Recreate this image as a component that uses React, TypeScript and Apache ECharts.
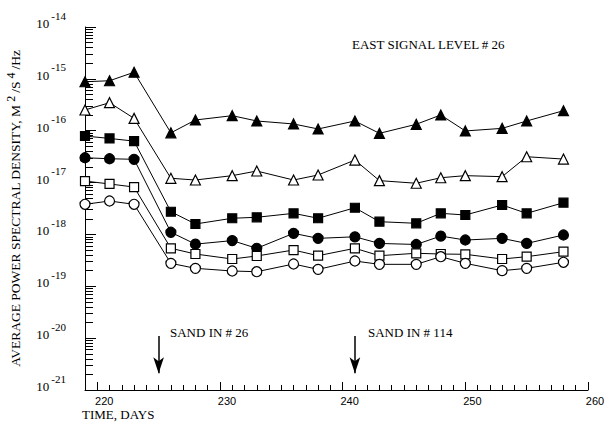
import React, { useEffect, useRef } from "react";
import * as echarts from "echarts";

const days = [219, 221, 223, 226, 228, 231, 233, 236, 238, 241, 243, 246, 248, 250, 253, 255, 258];

const filledTriangle = [8.8e-16, 9.2e-16, 1.34e-15, 9.1e-17, 1.61e-16, 1.95e-16, 1.54e-16, 1.35e-16, 1.08e-16, 1.54e-16, 8.9e-17, 1.33e-16, 2.01e-16, 9.9e-17, 1.11e-16, 1.54e-16, 2.43e-16];
const openTriangle = [2.51e-16, 3.47e-16, 1.73e-16, 1.21e-17, 1.12e-17, 1.36e-17, 1.67e-17, 1.12e-17, 1.4e-17, 2.72e-17, 1.09e-17, 9.7e-18, 1.24e-17, 1.36e-17, 1.3e-17, 3.15e-17, 2.84e-17];
const filledSquare = [7.9e-17, 7.1e-17, 6.3e-17, 2.74e-18, 1.59e-18, 2.05e-18, 2.14e-18, 2.55e-18, 2.05e-18, 3.27e-18, 1.76e-18, 1.64e-18, 2.55e-18, 2.37e-18, 3.69e-18, 2.55e-18, 4.09e-18];
const filledCircle = [3.01e-17, 2.88e-17, 2.81e-17, 1.1e-18, 6.5e-19, 7.6e-19, 5.4e-19, 1.05e-18, 8.4e-19, 9.0e-19, 6.7e-19, 6.4e-19, 9.3e-19, 7.8e-19, 8.4e-19, 6.7e-19, 9.75e-19];
const openSquare = [1.07e-17, 9.4e-18, 8.2e-18, 5.4e-19, 4.19e-19, 3.36e-19, 3.84e-19, 5.0e-19, 3.89e-19, 5.4e-19, 3.89e-19, 4.33e-19, 4.19e-19, 4.14e-19, 3.36e-19, 3.72e-19, 4.65e-19];
const openCircle = [3.81e-18, 4.41e-18, 3.81e-18, 2.77e-19, 2.22e-19, 1.97e-19, 1.91e-19, 2.69e-19, 2.12e-19, 3.07e-19, 2.65e-19, 2.65e-19, 3.72e-19, 2.77e-19, 2.0e-19, 2.22e-19, 2.9e-19];

const xLabels = [220, 230, 240, 250, 260];
const yDecades = [-21, -20, -19, -18, -17, -16, -15, -14];
const sandEvents = [
  { day: 225, label: "SAND IN # 26" },
  { day: 241, label: "SAND IN # 114" },
];
const arrowTop = 1.1e-20;
const arrowBottom = 2.1e-21;

const titleText = "EAST SIGNAL LEVEL # 26";

const SERIF = "'Liberation Serif', 'DejaVu Serif', serif";
const SANS = "'Liberation Sans', Arial, sans-serif";

export default function App() {
  const ref = useRef<HTMLDivElement>(null);
  useEffect(() => {
    if (!ref.current) return;
    const chart = echarts.init(ref.current, undefined, { renderer: "svg" });

    const dayTicks: number[] = [];
    for (let d = 220; d <= 260; d++) dayTicks.push(d);
    const minorY: number[] = [];
    for (let e = -21; e < -14; e++) {
      for (let k = 2; k <= 9; k++) minorY.push(k * Math.pow(10, e));
    }
    const majorY = yDecades.map((e) => Math.pow(10, e));

    const mk = (name: string, data: number[], symbol: string, size: number, filled: boolean) => ({
      name,
      type: "line",
      data: days.map((d, i) => [d, data[i]]),
      symbol,
      symbolSize: size,
      showAllSymbol: true,
      lineStyle: { color: "#000", width: 1 },
      itemStyle: { color: filled ? "#000" : "#fff", borderColor: "#000", borderWidth: 1.2 },
      z: 3,
    });

    const series: any[] = [
      mk("ft", filledTriangle, "triangle", 10, true),
      mk("ot", openTriangle, "triangle", 10, false),
      mk("fs", filledSquare, "rect", 9, true),
      mk("fc", filledCircle, "circle", 10, true),
      mk("os", openSquare, "rect", 9, false),
      mk("oc", openCircle, "circle", 10, false),
      {
        type: "line",
        data: [],
        markLine: {
          silent: true,
          symbol: ["none", "arrow"],
          symbolSize: [8, 16],
          lineStyle: { color: "#000", width: 1.5, type: "solid" },
          label: { show: false },
          data: sandEvents.map((s) => [
            { coord: [s.day, arrowTop] },
            { coord: [s.day, arrowBottom] },
          ]),
        },
      },
    ];

    chart.setOption({
      animation: false,
      backgroundColor: "#fff",
      grid: { left: 85, right: 21, top: 27, bottom: 33, containLabel: false, outerBoundsMode: "none" },
      xAxis: [
        {
          type: "value",
          min: 219,
          max: 260,
          axisLine: { show: true, lineStyle: { color: "#000", width: 1 } },
          axisTick: { show: true, inside: true, length: 5, customValues: dayTicks, lineStyle: { color: "#000" } },
          axisLabel: {
            customValues: xLabels,
            color: "#000",
            fontFamily: SANS,
            fontSize: 11,
            margin: 5,
            padding: [0, 0, 0, 14],
          },
          splitLine: { show: false },
        },
        {
          type: "value",
          min: 219,
          max: 260,
          position: "bottom",
          axisLine: { show: false },
          axisTick: { show: true, inside: true, length: 8, customValues: xLabels, lineStyle: { color: "#000" } },
          axisLabel: { show: false },
          splitLine: { show: false },
        },
      ],
      yAxis: [
        {
          type: "log",
          logBase: 10,
          min: 1e-21,
          max: 1e-14,
          axisLine: { show: true, lineStyle: { color: "#000", width: 1 } },
          axisTick: { show: true, inside: true, length: 8, customValues: minorY, lineStyle: { color: "#000" } },
          axisLabel: {
            customValues: majorY,
            margin: 19,
            padding: [0, 0, 14, 0],
            formatter: (v: number) => `{b|10}{e|${Math.round(Math.log10(v))}}`,
            rich: {
              b: { fontFamily: SERIF, fontSize: 13, color: "#000", verticalAlign: "bottom" },
              e: { fontFamily: SERIF, fontSize: 11, color: "#000", verticalAlign: "bottom", padding: [0, 0, 9, 2] },
            },
          },
          splitLine: { show: false },
          name: "AVERAGE POWER SPECTRAL DENSITY, M{s|2}/S{s|4}/Hz",
          nameLocation: "middle",
          nameGap: 60,
          nameTextStyle: {
            fontFamily: SERIF,
            fontSize: 13.5,
            color: "#000",
            rich: {
              s: { fontFamily: SERIF, fontSize: 12, color: "#000", verticalAlign: "bottom", padding: [0, 3, 8, 3] },
            },
          },
        },
        {
          type: "log",
          logBase: 10,
          min: 1e-21,
          max: 1e-14,
          position: "left",
          axisLine: { show: false },
          axisTick: { show: true, inside: true, length: 11, customValues: majorY, lineStyle: { color: "#000" } },
          axisLabel: { show: false },
          splitLine: { show: false },
        },
      ],
      series,
      graphic: [
        {
          type: "text",
          left: 352,
          top: 38,
          style: { text: titleText, font: `13px ${SERIF}`, fill: "#000" },
        },
        {
          type: "text",
          left: 170,
          top: 326,
          style: { text: sandEvents[0].label, font: `13px ${SERIF}`, fill: "#000" },
        },
        {
          type: "text",
          left: 368,
          top: 326,
          style: { text: sandEvents[1].label, font: `13px ${SERIF}`, fill: "#000" },
        },
        {
          type: "text",
          left: 82,
          top: 408,
          style: { text: "TIME, DAYS", font: `13px ${SERIF}`, fill: "#000" },
        },
      ],
    });
    return () => chart.dispose();
  }, []);
  return <div ref={ref} style={{ position: "absolute", left: 0, top: 0, width: 609, height: 423 }} />;
}
